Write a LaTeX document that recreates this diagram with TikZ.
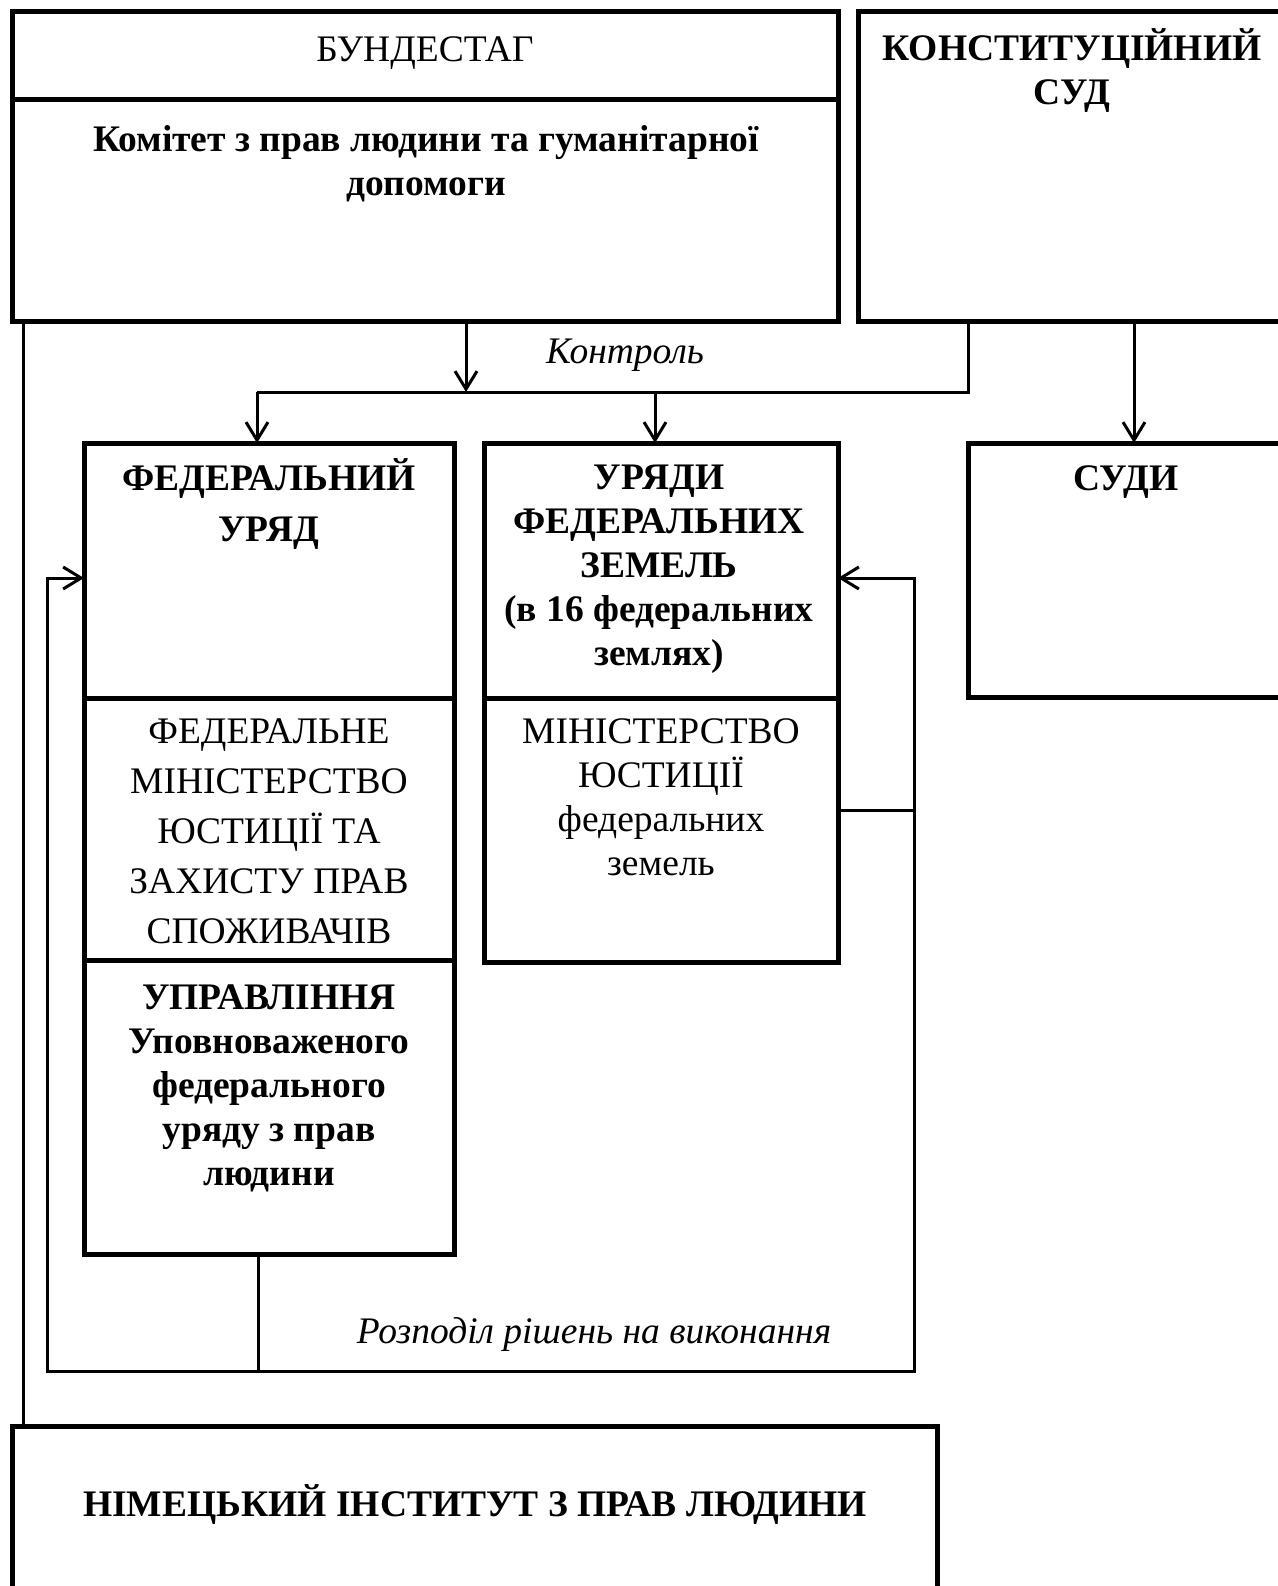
\documentclass[tikz,border=0pt]{standalone}
\usepackage{fontspec}
\setmainfont{Liberation Serif}
\usetikzlibrary{arrows.meta}
\begin{document}
\begin{tikzpicture}[x=1pt,y=-1pt,
  box/.style={draw, line width=5pt, rectangle, anchor=north west, inner sep=0pt, outer sep=0pt},
  conn/.style={line width=3pt},
  arr/.style={line width=3pt, -{Straight Barb[length=18pt,width=22pt]}},
  lbl/.style={align=center, inner sep=0pt, font=\fontsize{37.5}{44}\selectfont},
  lblw/.style={align=center, inner sep=0pt, font=\fontsize{37.5}{50}\selectfont},
]
\useasboundingbox (0,0) rectangle (1277,1586);

% boxes
\node[box, minimum width=826pt, minimum height=88pt]  (bt) at (12,12) {};
\node[box, minimum width=826pt, minimum height=221pt] (bc) at (12,100) {};
\node[box, minimum width=427pt, minimum height=309pt] (ks) at (858,12) {};
\node[box, minimum width=370pt, minimum height=255pt] (fg) at (84,443) {};
\node[box, minimum width=370pt, minimum height=262pt] (fm) at (84,698) {};
\node[box, minimum width=370pt, minimum height=294pt] (fu) at (84,960) {};
\node[box, minimum width=354pt, minimum height=255pt] (lg) at (484,443) {};
\node[box, minimum width=354pt, minimum height=264pt] (lm) at (484,698) {};
\node[box, minimum width=317pt, minimum height=254pt] (sd) at (968,443) {};
\node[box, minimum width=925pt, minimum height=220pt] (ni) at (12,1426) {};

% texts
\node[lbl] (tbt) at (425,53) {БУНДЕСТАГ};
\node[lbl, font=\fontsize{37.5}{44}\selectfont\bfseries] (tbc) at (426,164) {Комітет з прав людини та гуманітарної\\допомоги};
\node[lbl, font=\fontsize{37.5}{44}\selectfont\bfseries] (tks) at (1072,70.5) {КОНСТИТУЦІЙНИЙ\\СУД};
\node[lbl, font=\fontsize{37.5}{44}\selectfont\itshape] (tctl) at (625,355) {Контроль};
\node[lblw, font=\fontsize{37.5}{51}\selectfont\bfseries] (tfg) at (269,504) {ФЕДЕРАЛЬНИЙ\\УРЯД};
\node[lbl, font=\fontsize{37.5}{44}\selectfont\bfseries] (tlg) at (659,569.5) {УРЯДИ\\ФЕДЕРАЛЬНИХ\\ЗЕМЕЛЬ\\(в 16 федеральних\\землях)};
\node[lbl, font=\fontsize{37.5}{44}\selectfont\bfseries] (tsd) at (1126,482) {СУДИ};
\node[lblw] (tfm) at (269,831) {ФЕДЕРАЛЬНЕ\\МІНІСТЕРСТВО\\ЮСТИЦІЇ ТА\\ЗАХИСТУ ПРАВ\\СПОЖИВАЧІВ};
\node[lbl] (tlm) at (661,797) {МІНІСТЕРСТВО\\ЮСТИЦІЇ\\федеральних\\земель};
\node[lbl, font=\fontsize{37.5}{44}\selectfont\bfseries] (tfu) at (269,1088.5) {УПРАВЛІННЯ\\Уповноваженого\\федерального\\уряду з прав\\людини};
\node[lbl, font=\fontsize{37.5}{44}\selectfont\itshape] (trz) at (594,1334) {Розподіл рішень на виконання};
\node[lbl, font=\fontsize{37.5}{44}\selectfont\bfseries] (tni) at (475,1505) {НІМЕЦЬКИЙ ІНСТИТУТ З ПРАВ ЛЮДИНИ};

% helper coordinates
\coordinate (xL) at (23,0);
\coordinate (xC) at (466,0);
\coordinate (xF) at (257,0);
\coordinate (xZ) at (655,0);
\coordinate (xK) at (968,0);
\coordinate (xS) at (1134,0);
\coordinate (yH) at (0,392);
\coordinate (xB) at (258,0);
\coordinate (xLL) at (47,0);
\coordinate (xRR) at (914,0);
\coordinate (yB) at (0,1371);
\coordinate (yA) at (0,578);
\coordinate (yM) at (0,810);

% connectors
\draw[conn] (xL |- bc.south) -- (xL |- ni.north);
\draw[arr] (xC |- bc.south) -- (xC |- yH);
\draw[conn] (xF |- yH) -- (xK |- yH) -- (xK |- ks.south);
\draw[arr] (xF |- yH) -- (xF |- fg.north);
\draw[arr] (xZ |- yH) -- (xZ |- lg.north);
\draw[arr] (xS |- ks.south) -- (xS |- sd.north);
\draw[conn] (xB |- fu.south) -- (xB |- yB);
\draw[arr] (xRR |- yB) -- (xLL |- yB) -- (xLL |- yA) -- (fg.west |- yA);
\draw[arr] (xLL |- yB) -- (xRR |- yB) -- (xRR |- yA) -- (lg.east |- yA);
\draw[conn] (lm.east |- yM) -- (xRR |- yM);
\end{tikzpicture}
\end{document}
